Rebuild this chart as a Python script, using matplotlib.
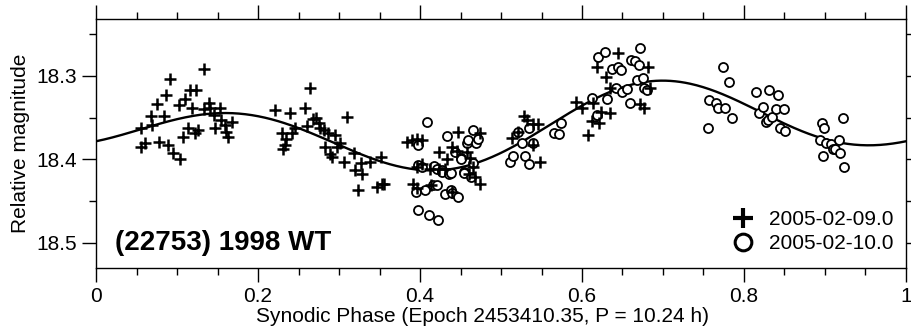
import numpy as np
import matplotlib.pyplot as plt
from matplotlib.lines import Line2D
from matplotlib.ticker import MultipleLocator

plt.rcParams['font.family'] = ['Liberation Sans', 'DejaVu Sans']

# 2005-02-09.0 session (plus markers)
phase_0209 = [0.056, 0.055, 0.061, 0.068, 0.069, 0.075, 0.078, 0.084, 0.086, 0.089,
              0.091, 0.095, 0.102, 0.104, 0.108, 0.110, 0.114, 0.116, 0.119, 0.122,
              0.124, 0.126, 0.133, 0.133, 0.139, 0.141, 0.146, 0.147, 0.153, 0.154,
              0.159, 0.161, 0.163, 0.168, 0.221, 0.229, 0.231, 0.233, 0.235, 0.240,
              0.242, 0.246, 0.258, 0.260, 0.264, 0.268, 0.272, 0.275, 0.277, 0.281,
              0.283, 0.287, 0.289, 0.291, 0.295, 0.297, 0.301, 0.306, 0.310, 0.319,
              0.320, 0.324, 0.327, 0.329, 0.338, 0.347, 0.352, 0.353, 0.356, 0.384,
              0.390, 0.396, 0.403, 0.403, 0.396, 0.391, 0.396, 0.412, 0.414, 0.423,
              0.424, 0.433, 0.431, 0.439, 0.447, 0.439, 0.446, 0.458, 0.462, 0.466,
              0.474, 0.460, 0.468, 0.474, 0.513, 0.521, 0.528, 0.532, 0.540, 0.546,
              0.540, 0.548, 0.593, 0.600, 0.608, 0.614, 0.612, 0.621, 0.624, 0.635,
              0.619, 0.644, 0.630, 0.635, 0.682, 0.672, 0.677, 0.684]
mag_0209 = [18.363, 18.385, 18.381, 18.348, 18.359, 18.334, 18.379, 18.348, 18.323, 18.383,
            18.304, 18.392, 18.335, 18.400, 18.373, 18.328, 18.363, 18.317, 18.338, 18.369,
            18.317, 18.365, 18.292, 18.340, 18.333, 18.339, 18.347, 18.363, 18.339, 18.353,
            18.359, 18.367, 18.373, 18.355, 18.341, 18.369, 18.387, 18.383, 18.376, 18.344,
            18.369, 18.363, 18.338, 18.360, 18.314, 18.352, 18.351, 18.357, 18.363, 18.365,
            18.385, 18.369, 18.393, 18.397, 18.371, 18.385, 18.381, 18.403, 18.349, 18.392,
            18.413, 18.437, 18.404, 18.417, 18.403, 18.433, 18.397, 18.429, 18.430, 18.379,
            18.377, 18.376, 18.377, 18.405, 18.409, 18.429, 18.434, 18.412, 18.431, 18.391,
            18.411, 18.399, 18.411, 18.385, 18.367, 18.439, 18.390, 18.391, 18.398, 18.409,
            18.369, 18.417, 18.421, 18.429, 18.375, 18.367, 18.348, 18.353, 18.358, 18.358,
            18.383, 18.403, 18.331, 18.338, 18.371, 18.333, 18.354, 18.356, 18.343, 18.345,
            18.290, 18.273, 18.301, 18.315, 18.289, 18.334, 18.338, 18.314]

# 2005-02-10.0 session (circle markers)
phase_0210 = [0.395, 0.398, 0.398, 0.398, 0.402, 0.406, 0.409, 0.411, 0.417, 0.416,
              0.421, 0.421, 0.422, 0.427, 0.427, 0.431, 0.433, 0.436, 0.438, 0.438,
              0.439, 0.443, 0.447, 0.450, 0.451, 0.454, 0.454, 0.458, 0.459, 0.463,
              0.465, 0.466, 0.469, 0.471, 0.511, 0.515, 0.521, 0.526, 0.530, 0.534,
              0.535, 0.539, 0.565, 0.571, 0.574, 0.612, 0.618, 0.620, 0.628, 0.631,
              0.637, 0.642, 0.645, 0.648, 0.650, 0.656, 0.659, 0.661, 0.665, 0.668,
              0.670, 0.672, 0.675, 0.677, 0.680, 0.755, 0.757, 0.765, 0.768, 0.774,
              0.777, 0.782, 0.785, 0.815, 0.819, 0.823, 0.827, 0.830, 0.831, 0.835,
              0.840, 0.842, 0.844, 0.849, 0.851, 0.894, 0.896, 0.897, 0.899, 0.901,
              0.908, 0.910, 0.912, 0.917, 0.919, 0.922, 0.924]
mag_0210 = [18.439, 18.407, 18.383, 18.460, 18.409, 18.437, 18.355, 18.466, 18.408, 18.431,
            18.412, 18.431, 18.473, 18.413, 18.415, 18.442, 18.372, 18.417, 18.416, 18.437,
            18.440, 18.391, 18.445, 18.398, 18.400, 18.415, 18.416, 18.381, 18.377, 18.421,
            18.404, 18.365, 18.380, 18.376, 18.403, 18.396, 18.367, 18.381, 18.396, 18.363,
            18.405, 18.381, 18.369, 18.370, 18.357, 18.326, 18.347, 18.278, 18.272, 18.328,
            18.292, 18.314, 18.290, 18.293, 18.319, 18.316, 18.333, 18.281, 18.282, 18.305,
            18.287, 18.267, 18.303, 18.314, 18.317, 18.363, 18.329, 18.333, 18.339, 18.290,
            18.338, 18.308, 18.350, 18.319, 18.345, 18.337, 18.355, 18.353, 18.317, 18.349,
            18.340, 18.323, 18.363, 18.340, 18.366, 18.377, 18.357, 18.396, 18.362, 18.380,
            18.382, 18.387, 18.388, 18.377, 18.392, 18.351, 18.409]

# fitted lightcurve, read at every 0.05 in phase
curve_phase = [0.00, 0.05, 0.10, 0.15, 0.20, 0.25, 0.30, 0.35, 0.40, 0.45, 0.50,
               0.55, 0.60, 0.65, 0.70, 0.75, 0.80, 0.85, 0.90, 0.95]
curve_mag = [18.379, 18.365, 18.352, 18.344, 18.349, 18.363, 18.383, 18.401, 18.412, 18.411,
             18.393, 18.363, 18.336, 18.314, 18.306, 18.314, 18.333, 18.357, 18.376, 18.383]

# smooth periodic curve through the read points (3rd order Fourier series)
order = 3
def basis(p):
    p = np.asarray(p)
    cols = [np.ones_like(p)]
    for k in range(1, order + 1):
        cols += [np.cos(2*np.pi*k*p), np.sin(2*np.pi*k*p)]
    return np.column_stack(cols)

coef, *_ = np.linalg.lstsq(basis(curve_phase), np.array(curve_mag), rcond=None)
px = np.linspace(0, 1, 500)
py = basis(px) @ coef

fig = plt.figure(figsize=(9.11, 3.35), dpi=100)
ax = fig.add_axes([0.1054, 0.2, 0.8891, 0.7433])

ax.plot(px, py, color='black', lw=1.7, zorder=2)
ax.plot(phase_0210, mag_0210, 'o', ls='none', ms=6.5, mfc='white', mec='black',
        mew=1.3, zorder=3)
ax.plot(phase_0209, mag_0209, '+', ls='none', ms=9, color='black', mew=1.8, zorder=4)

ax.set_xlim(0, 1)
ax.set_ylim(18.53, 18.232)
ax.xaxis.set_major_locator(MultipleLocator(0.2))
ax.xaxis.set_minor_locator(MultipleLocator(0.05))
ax.yaxis.set_major_locator(MultipleLocator(0.1))
ax.yaxis.set_minor_locator(MultipleLocator(0.05))
ax.xaxis.set_major_formatter(plt.FuncFormatter(lambda v, _: '%g' % round(v, 2)))
ax.tick_params(which='both', direction='out', top=True, right=True, width=1.0,
               labelsize=15, pad=4)
ax.tick_params(which='major', length=10)
ax.tick_params(which='minor', length=5)
for s in ax.spines.values():
    s.set_linewidth(1.0)

ax.set_xlabel('Synodic Phase (Epoch 2453410.35, P = 10.24 h)', fontsize=15)
ax.xaxis.set_label_coords(0.477, -0.155)
ax.set_ylabel('Relative magnitude', fontsize=15, labelpad=4)

ax.text(0.024, 0.1, '(22753) 1998 WT', transform=ax.transAxes, fontsize=20,
        fontweight='bold', va='center', ha='left')

handles = [Line2D([], [], marker='+', ls='none', color='black', ms=14, mew=3),
           Line2D([], [], marker='o', ls='none', mfc='white', mec='black', ms=12, mew=2.2)]
ax.legend(handles, ['2005-02-09.0', '2005-02-10.0'], loc='lower right',
          bbox_to_anchor=(1.003, 0.0), frameon=False, fontsize=15, handlelength=1.0,
          handletextpad=0.75, labelspacing=0.25, borderaxespad=0.3)

fig.savefig('out.png', dpi=100)
